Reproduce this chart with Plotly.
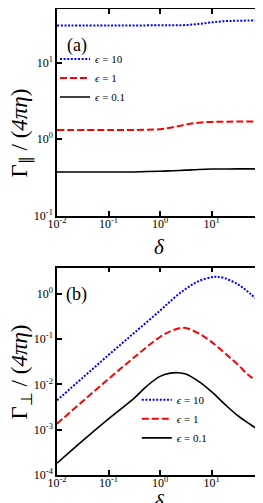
import plotly.graph_objects as go

# ---------------- data ----------------
# panel (a): parallel friction
delta_a = [0.01, 0.1, 0.316, 1, 1.78, 3.16, 5.62, 10, 17.8, 31.6, 100]
par_eps10 = [30.6, 30.6, 30.6, 30.7, 30.8, 30.9, 32.0, 33.5, 34.7, 35.2, 35.5]
par_eps1 = [1.32, 1.32, 1.32, 1.35, 1.43, 1.55, 1.64, 1.68, 1.69, 1.70, 1.70]
par_eps01 = [0.372, 0.372, 0.373, 0.380, 0.387, 0.394, 0.402, 0.407, 0.408, 0.409, 0.409]

# panel (b): perpendicular friction
delta_b10 = [0.01, 0.0316, 0.1, 0.316, 1, 1.78, 3.16, 5.62, 10, 12.6, 17.8, 31.6, 56.2, 100]
perp_eps10 = [0.00447, 0.0141, 0.0447, 0.138, 0.427, 0.776, 1.29, 1.91, 2.34, 2.38, 2.24, 1.66, 1.02, 0.569]
delta_b1 = [0.01, 0.0316, 0.1, 0.316, 1, 1.78, 2.95, 5.62, 10, 17.8, 31.6, 56.2, 100]
perp_eps1 = [0.00135, 0.00427, 0.0132, 0.0398, 0.112, 0.158, 0.178, 0.135, 0.0871, 0.0501, 0.0282, 0.0151, 0.0100]
delta_b01 = [0.01, 0.0316, 0.1, 0.316, 0.562, 1, 1.58, 2.24, 3.16, 5.62, 10, 17.8, 31.6, 56.2, 100]
perp_eps01 = [1.82e-4, 5.75e-4, 1.74e-3, 5.01e-3, 9.33e-3, 0.0151, 0.0178, 0.0182, 0.0170, 0.0117,
              0.00692, 0.00372, 0.00209, 0.00132, 8.51e-4]

series_names = ["<i>ϵ</i> = 10", "<i>ϵ</i> = 1", "<i>ϵ</i> = 0.1"]

x_tickvals = [0.01, 0.1, 1, 10, 100]
x_ticktext = ["10<sup>-2</sup>", "10<sup>-1</sup>", "10<sup>0</sup>", "10<sup>1</sup>", "10<sup>2</sup>"]
ya_tickvals = [0.1, 1, 10]
ya_ticktext = ["10<sup>-1</sup>", "10<sup>0</sup>", "10<sup>1</sup>"]
yb_tickvals = [1e-4, 1e-3, 1e-2, 1e-1, 1]
yb_ticktext = ["10<sup>-4</sup>", "10<sup>-3</sup>", "10<sup>-2</sup>", "10<sup>-1</sup>", "10<sup>0</sup>"]

# ---------------- styling ----------------
W, H = 263, 503
ML, MR, MT, MB = 49, 7.5, 0.5, 36.3
PW, PH = W - ML - MR, H - MT - MB
FONT = "Liberation Serif"

def px_x(X):
    return (X - ML) / PW

def px_y(Y):
    return (H - MB - Y) / PH

styles = [
    dict(color="#0000ff", width=2, dash="2px,1.6px"),
    dict(color="#ff0000", width=2, dash="7px,3px"),
    dict(color="#000000", width=1.6, dash="solid"),
]

fig = go.Figure()

for name, y, st in zip(series_names, [par_eps10, par_eps1, par_eps01], styles):
    fig.add_trace(go.Scatter(x=delta_a, y=y, mode="lines", name=name, line=dict(shape="spline", **st),
                             xaxis="x", yaxis="y", legend="legend"))

for name, x, y, st in zip(series_names, [delta_b10, delta_b1, delta_b01],
                          [perp_eps10, perp_eps1, perp_eps01], styles):
    fig.add_trace(go.Scatter(x=x, y=y, mode="lines", name=name, line=dict(shape="spline", **st),
                             xaxis="x2", yaxis="y2", legend="legend2"))

axis_common = dict(type="log", showline=True, linecolor="black", linewidth=1.5, mirror="ticks",
                   ticks="inside", ticklen=5, tickwidth=1.5, tickcolor="black", showgrid=False,
                   zeroline=False, ticklabeloverflow="allow",
                   tickfont=dict(family=FONT, size=12, color="black"))

y_top_dom = [px_y(207.3), 1]
y_bot_dom = [0, px_y(259.3)]

fig.update_layout(
    width=W, height=H,
    margin=dict(l=ML, r=MR, t=MT, b=MB),
    paper_bgcolor="white", plot_bgcolor="white",
    font=dict(family=FONT, color="black"),
    xaxis=dict(range=[-2, 2], tickvals=x_tickvals, ticktext=x_ticktext, anchor="y", domain=[0, 1],
               ticklabelstandoff=-4, **axis_common),
    yaxis=dict(range=[-1, 1.70], tickvals=ya_tickvals, ticktext=ya_ticktext, anchor="x", domain=y_top_dom,
               **axis_common),
    xaxis2=dict(range=[-2, 2], tickvals=x_tickvals, ticktext=x_ticktext, anchor="y2", domain=[0, 1],
                ticklabelstandoff=-4, **axis_common),
    yaxis2=dict(range=[-4, 0.58], tickvals=yb_tickvals, ticktext=yb_ticktext, anchor="x2", domain=y_bot_dom,
                **axis_common),
    legend=dict(x=px_x(47), y=px_y(36), xanchor="left", yanchor="top", bgcolor="rgba(0,0,0,0)",
                font=dict(family=FONT, size=11), tracegroupgap=0, itemwidth=30),
    legend2=dict(x=px_x(129), y=px_y(377), xanchor="left", yanchor="top", bgcolor="rgba(0,0,0,0)",
                 font=dict(family=FONT, size=11), tracegroupgap=0, itemwidth=30),
    showlegend=True,
)

annots = [
    dict(text="Γ<sub>∥</sub> / (<i>4πη</i>)", x=px_x(13), y=px_y(125), textangle=-90, size=23),
    dict(text="Γ<sub>⊥</sub> / (<i>4πη</i>)", x=px_x(13), y=px_y(364), textangle=-90, size=23),
    dict(text="<i>δ</i>", x=px_x(152), y=px_y(239), size=21),
    dict(text="<i>δ</i>", x=px_x(152), y=px_y(494), size=21),
    dict(text="(a)", x=px_x(69.5), y=px_y(37.5), size=18),
    dict(text="(b)", x=px_x(69), y=px_y(286.5), size=18),
]
for a in annots:
    fig.add_annotation(xref="paper", yref="paper", showarrow=False, xanchor="center", yanchor="middle",
                       text=a["text"], x=a["x"], y=a["y"], textangle=a.get("textangle", 0),
                       font=dict(family=FONT, color="black", size=a["size"]))

fig.write_html("out.html")
